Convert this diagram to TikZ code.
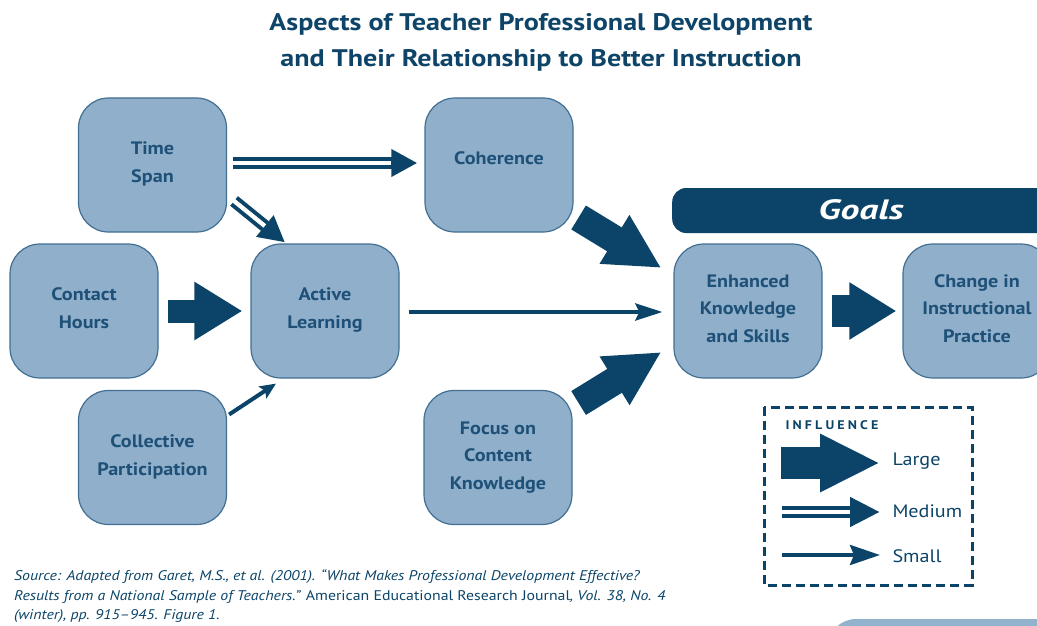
\documentclass[tikz,border=0pt]{standalone}
\usepackage{fontspec}
\setmainfont{PT Sans}[FakeStretch=1.12]
\newfontfamily\spacedfont[LetterSpace=25.0,FakeStretch=1.12]{PT Sans}
\newfontfamily\titlefont[FakeStretch=1.17]{PT Sans}
\newfontfamily\goalsfont[FakeStretch=1.35]{PT Sans}
\newfontfamily\srcfont[FakeStretch=1.13]{PT Sans}
\usetikzlibrary{arrows.meta,calc}
\definecolor{navy}{HTML}{0B4468}
\definecolor{titlecol}{HTML}{0E4467}
\definecolor{boxfill}{HTML}{8FAFCA}
\definecolor{boxline}{HTML}{426F92}
\definecolor{boxtext}{HTML}{1E5078}
\definecolor{lightfill}{HTML}{93B2CB}
\begin{document}
\begin{tikzpicture}[x=1pt,y=-1pt,
  box/.style={draw=boxline, line width=1.2pt, fill=boxfill, rounded corners=30pt,
    minimum width=148pt, minimum height=134pt, inner sep=0pt, align=center,
    text=boxtext, font=\bfseries\fontsize{18}{27.5}\selectfont},
  bigarrow/.style={navy, line width=26pt, -{Triangle[length=50pt,width=54pt]}},
  medline/.style={navy, line width=12.3pt, -{Triangle[length=26pt,width=26pt]}},
  medgap/.style={white, line width=4.3pt, shorten <=-1pt, shorten >=26pt},
  smallarrow/.style={navy, line width=4pt, -{Stealth[length=27pt,width=17pt,inset=4pt]}},
  legtext/.style={anchor=west, text=navy, font=\fontsize{18}{20}\selectfont},
]
\useasboundingbox (0,0) rectangle (1037,626);
\clip (0,0) rectangle (1037,626);

% title
\node[align=center, text=titlecol, font=\titlefont\bfseries\fontsize{24}{36}\selectfont] (title) at (541,42)
  {Aspects of Teacher Professional Development\\and Their Relationship to Better Instruction};

% goals bar
\node[fill=navy, rounded corners=14pt, minimum width=400pt, minimum height=45pt, anchor=west, inner sep=0pt] (goalsbar) at (672,210.5) {};
\node[text=white, font=\goalsfont\bfseries\itshape\fontsize{28}{30}\selectfont] (goals) at (861,210) {Goals};

% boxes
\node[box] (ts) at (152.5,165) {Time\\Span\\[-22pt]};
\node[box] (coh) at (499,165) {Coherence\\[-13pt]};
\node[box] (ch) at (84,311) {Contact\\Hours\\[-22pt]};
\node[box] (al) at (325,311) {Active\\Learning\\[-22pt]};
\node[box] (cp) at (152.5,457.5) {Collective\\Participation\\[-23pt]};
\node[box] (fc) at (498,457.5) {Focus on\\Content\\Knowledge\\[-23pt]};
\node[box] (ekn) at (748,311) {Enhanced\\Knowledge\\and Skills\\[-22pt]};
\node[box] (cip) at (977,311) {Change in\\Instructional\\Practice\\[-22pt]};

% large arrows
\draw[bigarrow, line width=23pt, shorten <=9pt, shorten >=8pt,
  -{Triangle[length=48pt,width=55pt]}] (ch.east) -- (al.west);
\draw[bigarrow, line width=32pt, shorten <=9pt, shorten >=6pt,
  -{Triangle[length=47pt,width=54pt]}] (ekn.east) -- (cip.west);
\draw[bigarrow, line width=28pt, -{Triangle[length=55pt,width=53pt]}]
  ($(coh.east)+(5,52.5)$) -- ($(ekn.west)+(-12,-43)$);
\draw[bigarrow, line width=28pt, -{Triangle[length=55pt,width=53pt]}]
  ($(fc.east)+(6,-54.5)$) -- ($(ekn.west)+(-12,41)$);

% medium arrows
\coordinate (m1s) at ($(ts.east)+(6,-2)$);
\coordinate (m1e) at ($(coh.west)+(-7,-2)$);
\draw[medline] (m1s) -- (m1e);
\draw[medgap] (m1s) -- (m1e);
\coordinate (m2s) at ($(ts.east)+(7,36)$);
\coordinate (m2e) at ($(al.north)+(-40,-1)$);
\draw[medline] (m2s) -- (m2e);
\draw[medgap] (m2s) -- (m2e);

% small arrows
\draw[smallarrow, shorten <=9pt, shorten >=11pt] ($(al.east)+(0,1)$) -- ($(ekn.west)+(0,1)$);
\draw[smallarrow, -{Stealth[length=16pt,width=14pt,inset=3pt]}]
  ($(cp.east)+(2,-43)$) -- ($(al.south)+(-49,5)$);

% legend
\draw[navy, line width=3pt, dash pattern=on 9pt off 5pt] (764,407) rectangle (972,585);
\node[anchor=west, text=navy, font=\spacedfont\bfseries\fontsize{12.5}{14}\selectfont] (infl) at (782,425) {INFLUENCE};
\coordinate (l1s) at (781,463);
\coordinate (l1e) at (880,463);
\draw[bigarrow, line width=32pt, -{Triangle[length=60pt,width=54pt]}] (l1s) -- (l1e);
\node[legtext] (large) at (889,461) {Large};
\coordinate (l2s) at (782,512);
\coordinate (l2e) at (880,512);
\draw[medline, -{Triangle[length=30pt,width=28pt]}] (l2s) -- (l2e);
\draw[medgap, shorten >=30pt] (l2s) -- (l2e);
\node[legtext] (medium) at (889,511) {Medium};
\coordinate (l3s) at (782,555);
\coordinate (l3e) at (880,555);
\draw[smallarrow, -{Stealth[length=30pt,width=20pt,inset=4pt]}] (l3s) -- (l3e);
\node[legtext] (small) at (889,556) {Small};

% source
\node[anchor=north west, align=left, text=navy, font=\srcfont\itshape\fontsize{14}{19.5}\selectfont, inner sep=0pt] (src) at (14,569.5)
  {Source: Adapted from Garet, M.S., et al. (2001). “What Makes Professional Development Effective?\\
   Results from a National Sample of Teachers.” {\upshape American Educational Research Journal}, Vol. 38, No. 4\\
   (winter), pp. 915–945. Figure 1.};

% partial box at bottom right
\fill[lightfill, rounded corners=28pt] (828,619) rectangle (1100,720);
\end{tikzpicture}
\end{document}
